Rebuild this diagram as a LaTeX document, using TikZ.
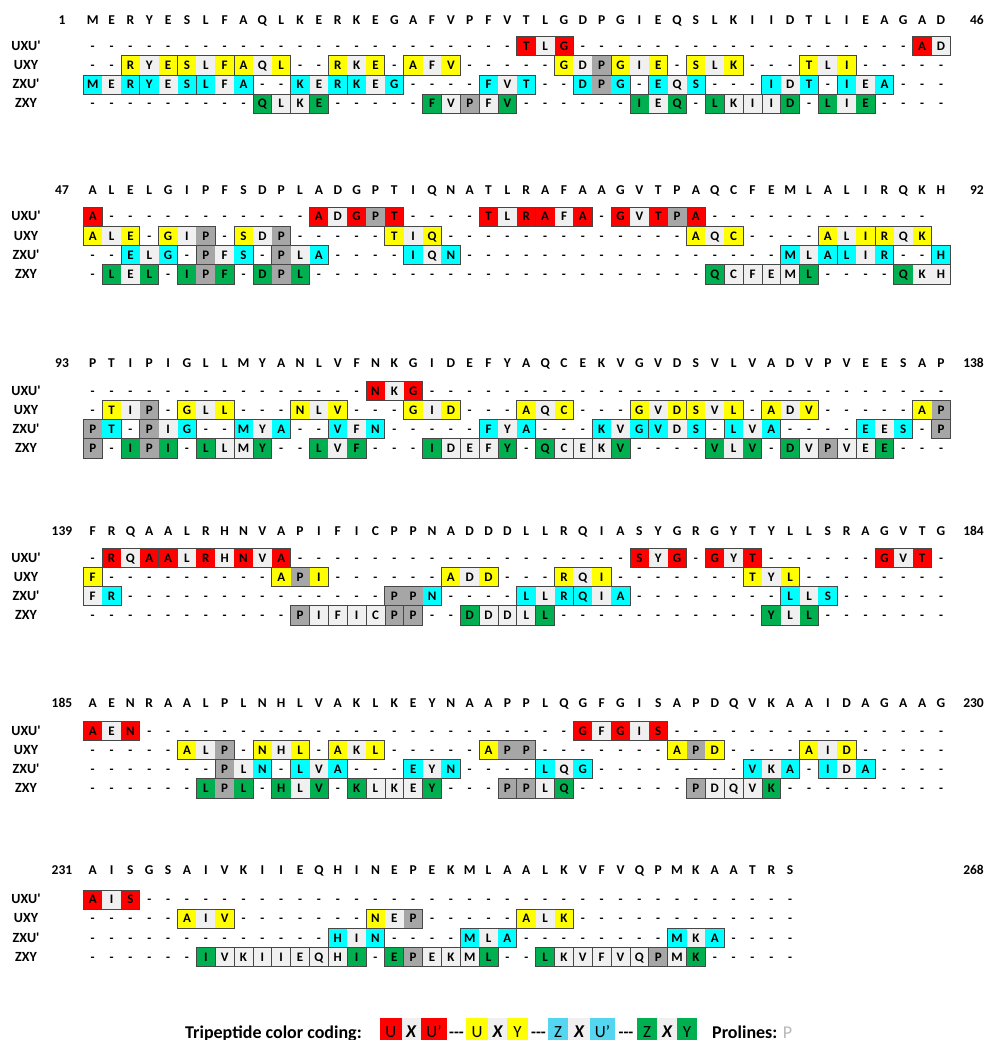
\documentclass[tikz,border=0pt]{standalone}
\usepackage{fontspec}
\setmainfont{Carlito}

\definecolor{cR}{HTML}{FF0000}
\definecolor{cY}{HTML}{FFFF00}
\definecolor{cC}{HTML}{00FFFF}
\definecolor{cG}{HTML}{00B050}
\definecolor{cL}{HTML}{F0F0F0}
\definecolor{cP}{HTML}{A6A6A6}
\definecolor{legC}{HTML}{55D6F0}
\definecolor{edge}{HTML}{474747}
\definecolor{proC}{HTML}{B8B8B8}

\tikzset{
  seqbox/.style={draw=edge,line width=0.9pt},
  seqsep/.style={draw=edge,line width=0.8pt},
  celltext/.style={anchor=base,inner sep=0pt,font=\fontsize{13}{15}\selectfont\bfseries},
  headtext/.style={anchor=base,inner sep=0pt,font=\fontsize{13.5}{15}\selectfont\bfseries},
  numtext/.style={anchor=base,inner sep=0pt,font=\fontsize{13.5}{15}\selectfont\bfseries},
  rowlabel/.style={anchor=base,inner sep=0pt,font=\fontsize{14}{16}\selectfont\bfseries},
  legtext/.style={anchor=base,inner sep=0pt,font=\fontsize{18}{20}\selectfont\bfseries},
  legdash/.style={anchor=base,inner sep=0pt,font=\fontsize{16}{20}\selectfont\bfseries},
  legletter/.style={anchor=base,inner sep=0pt,font=\fontsize{17}{20}\selectfont},
  legx/.style={anchor=base,inner sep=0pt,font=\fontsize{18}{20}\selectfont\bfseries\itshape},
}

\ExplSyntaxOn
% n dashes in a row code
\cs_new:Npn \nd #1 { \prg_replicate:nn {#1} {-} }

\int_new:N \l_sq_pos_int
\int_new:N \l_sq_start_int
\tl_new:N \l_sq_head_tl
\tl_new:N \l_sq_code_tl
\tl_new:N \l_sq_ch_tl
\tl_new:N \g_sq_lines_tl
\tl_new:N \l_sq_xa_tl
\tl_new:N \l_sq_xb_tl
\tl_new:N \l_sq_xc_tl
\tl_new:N \l_sq_ya_tl
\tl_new:N \l_sq_yb_tl
\tl_new:N \l_sq_yt_tl
\tl_const:Nn \c_sq_xo_tl {83.3}
\tl_const:Nn \c_sq_cw_tl {18.85}
\tl_const:Nn \c_sq_rh_tl {19.2}

\cs_new_protected:Npn \sq_geom:
 {
  \tl_set:Nx \l_sq_xa_tl { \fp_eval:n { \c_sq_xo_tl + (\int_use:N \l_sq_pos_int - 1) * \c_sq_cw_tl } }
  \tl_set:Nx \l_sq_xb_tl { \fp_eval:n { \c_sq_xo_tl + \int_use:N \l_sq_pos_int * \c_sq_cw_tl } }
  \tl_set:Nx \l_sq_xc_tl { \fp_eval:n { \c_sq_xo_tl + (\int_use:N \l_sq_pos_int - 0.5) * \c_sq_cw_tl } }
 }

\cs_new_protected:Npn \sq_cell:n #1
 {
  \int_incr:N \l_sq_pos_int
  \sq_geom:
  \tl_set:Nx \l_sq_ch_tl { \tl_item:Nn \l_sq_head_tl { \int_use:N \l_sq_pos_int } }
  \fill[#1]~(\l_sq_xa_tl,\l_sq_ya_tl)~rectangle~(\l_sq_xb_tl,\l_sq_yb_tl);
  \node[celltext,~at={(\l_sq_xc_tl,\l_sq_yt_tl)}]~{\l_sq_ch_tl};
 }

\cs_new_protected:Npn \sq_dash:
 {
  \int_incr:N \l_sq_pos_int
  \sq_geom:
  \node[celltext,~at={(\l_sq_xc_tl,\l_sq_yt_tl)}]~{-};
 }

\cs_new_protected:Npn \sq_box:
 {
  \tl_set:Nx \l_tmpa_tl { \fp_eval:n { \c_sq_xo_tl + \int_use:N \l_sq_start_int * \c_sq_cw_tl } }
  \tl_set:Nx \l_tmpb_tl { \fp_eval:n { \c_sq_xo_tl + \int_use:N \l_sq_pos_int * \c_sq_cw_tl } }
  \tl_gput_right:Nx \g_sq_lines_tl
   { \exp_not:N \draw[seqbox]~(\l_tmpa_tl,\l_sq_ya_tl)~rectangle~(\l_tmpb_tl,\l_sq_yb_tl); }
 }

\cs_new_protected:Npn \sq_sep:
 {
  \tl_set:Nx \l_tmpa_tl { \fp_eval:n { \c_sq_xo_tl + \int_use:N \l_sq_pos_int * \c_sq_cw_tl } }
  \tl_gput_right:Nx \g_sq_lines_tl
   { \exp_not:N \draw[seqsep]~(\l_tmpa_tl,\l_sq_ya_tl)~--~(\l_tmpa_tl,\l_sq_yb_tl); }
 }

% #1 row top, #2 label, #3 residues, #4 row code
\cs_new_protected:Npn \sq_row:nnnn #1#2#3#4
 {
  \tl_set:Nn \l_sq_head_tl {#3}
  \tl_set:Nx \l_sq_ya_tl { \fp_eval:n {#1} }
  \tl_set:Nx \l_sq_yb_tl { \fp_eval:n {#1 + \c_sq_rh_tl} }
  \tl_set:Nx \l_sq_yt_tl { \fp_eval:n {#1 + 13.7} }
  \node[rowlabel,~at={(26,\l_sq_yt_tl)}]~{#2};
  \tl_set:Nx \l_sq_code_tl {#4}
  \int_zero:N \l_sq_pos_int
  \tl_map_inline:Nn \l_sq_code_tl
   {
    \str_case:nnF {##1}
     {
      {[} { \int_set_eq:NN \l_sq_start_int \l_sq_pos_int }
      {]} { \sq_box: }
      {|} { \sq_sep: }
      {-} { \sq_dash: }
      {.} { \int_incr:N \l_sq_pos_int }
      {r} { \sq_cell:n {cR} }
      {y} { \sq_cell:n {cY} }
      {c} { \sq_cell:n {cC} }
      {g} { \sq_cell:n {cG} }
      {l} { \sq_cell:n {cL} }
      {p} { \sq_cell:n {cP} }
     }
     { }
   }
 }

% #1 header centre y, #2 first number, #3 last number, #4 residues
\cs_new_protected:Npn \sq_head:nnnn #1#2#3#4
 {
  \tl_set:Nx \l_sq_yt_tl { \fp_eval:n {#1 + 4.2} }
  \int_zero:N \l_sq_pos_int
  \tl_map_inline:nn {#4}
   {
    \int_incr:N \l_sq_pos_int
    \sq_geom:
    \node[headtext,~at={(\l_sq_xc_tl,\l_sq_yt_tl)}]~{##1};
   }
  \node[numtext,~at={(62,\l_sq_yt_tl)}]~{#2};
  \node[numtext,~anchor=base~east,~at={(984,\l_sq_yt_tl)}]~{#3};
 }

\NewDocumentCommand \seqblock { m m m m m m m m m }
 {
  \sq_head:nnnn {#2} {#3} {#4} {#5}
  \sq_row:nnnn {#1} {UXU\textquotesingle} {#5} {#6}
  \sq_row:nnnn {#1 + 19.2} {UXY} {#5} {#7}
  \sq_row:nnnn {#1 + 38.4} {ZXU\textquotesingle} {#5} {#8}
  \sq_row:nnnn {#1 + 57.6} {ZXY} {#5} {#9}
 }

\NewDocumentCommand \seqlines { } { \tl_use:N \g_sq_lines_tl }
\ExplSyntaxOff

\begin{document}
\begin{tikzpicture}[x=1pt,y=-1pt]
\useasboundingbox (0,0) rectangle (987,1040);

% residues 1-46
\seqblock{36.7}{20}{1}{46}{MERYESLFAQLKERKEGAFVPFVTLGDPGIEQSLKIIDTLIEAGAD}
 {\nd{23}[rlr]\nd{18}[rl]}
 {\nd{2}[yly][yly][yly]\nd{2}[yly]-[yly]\nd{5}[ylp][yly]-[yly]\nd{3}[yly]\nd{5}}
 {[clc][clc][clc]\nd{2}[clc][clc]\nd{4}[clc]\nd{2}[cpc]-[clc]\nd{3}[clc]-[clc]\nd{3}}
 {\nd{9}[g|l|l|g]\nd{5}[g|l|p|l|g]\nd{6}[glg]-[g|l|l|l|g]-[glg]\nd{4}}

% residues 47-92
\seqblock{207.3}{190}{47}{92}{ALELGIPFSDPLADGPTIQNATLRAFAAGVTPAQCFEMLALIRQKH}
 {[r]\nd{11}[rlrpr]\nd{4}[rlr|rlr]-[rlrpr]\nd{12}.}
 {[yly]-[ylp]-[ylp]\nd{5}[yly]\nd{13}[yly]\nd{4}[yly][yly].}
 {\nd{2}[clc]-[plc]-[plc]\nd{4}[clc]\nd{17}[clc|clc]\nd{2}[c]}
 {-[glg]-[gpg]-[gpg]\nd{21}[g|l|l|l|l|g]\nd{4}[gll]}

% residues 93-138
\seqblock{381.3}{363.7}{93}{138}{PTIPIGLLMYANLVFNKGIDEFYAQCEKVGVDSVLVADVPVEESAP}
 {\nd{15}[rlr]\nd{28}}
 {-[ylp]-[yly]\nd{3}[yly]\nd{3}[yly]\nd{3}[yly]\nd{3}[yly][yly]-[yly]\nd{5}[yp]}
 {[pc]-[plc]\nd{2}[clc]\nd{2}[clc]\nd{5}[clc]\nd{3}[clc][clc]-[clc]\nd{4}[clc]-[p]}
 {[p]-[gpg]-[g|l|l|g]\nd{2}[glg]\nd{3}[g|l|l|l|g]-[g|l|l|l|g]\nd{4}[glg]-[g|l|p|l|l|g]\nd{3}}

% residues 139-184
\seqblock{548.3}{531}{139}{184}{FRQAALRHNVAPIFICPPNADDDLLRQIASYGRGYTYLLSRAGVTG}
 {-[rlr|rlrlrlr]\nd{18}[rlr]-[rlr]\nd{6}[rlr]-}
 {[y]\nd{9}[ypy]\nd{6}[yly]\nd{3}[yly]\nd{7}[yly]\nd{8}}
 {[lc]\nd{14}[ppc]\nd{4}[clc|clc]\nd{8}[clc]\nd{6}}
 {\nd{11}[p|l|l|l|l|p|p]\nd{2}[g|l|l|l|g]\nd{11}[glg]\nd{7}}

% residues 185-230
\seqblock{721.3}{703.3}{185}{230}{AENRAALPLNHLVAKLKEYNAAPPLQGFGISAPDQVKAAIDAGAAG}
 {[rlr]\nd{23}[rl|rlr]\nd{15}}
 {\nd{5}[ylp]-[yly]-[yly]\nd{5}[ypp]\nd{7}[ypy]\nd{4}[yly]\nd{5}}
 {\nd{7}[plc]-[clc]\nd{3}[clc]\nd{4}[clc]\nd{8}[clc]-[clc]\nd{4}}
 {\nd{6}[gpg]-[glg]-[g|l|l|l|g]\nd{3}[p|p|l|g]\nd{6}[p|l|l|l|g]\nd{9}}

% residues 231-268
\seqblock{890}{870}{231}{268}{AISGSAIVKIIEQHINEPEKMLAALKVFVQPMKAATRS}
 {[rlr]\nd{35}}
 {\nd{5}[yly]\nd{7}[ylp]\nd{5}[yly]\nd{12}}
 {\nd{13}[clc]\nd{4}[clc]\nd{8}[clc]\nd{4}}
 {\nd{6}[g|l|l|l|l|l|l|l|g]-[g|p|l|l|l|g]\nd{2}[g|l|l|l|l|l|p|l|g]\nd{5}}

% box outlines on top of the fills
\seqlines

% colour key
\node[legtext,anchor=base west] (keytitle) at (185,1038) {Tripeptide color coding:};
\fill[cR] (380,1018) rectangle (401.5,1042);
\fill[cL] (401.5,1018) rectangle (421,1042);
\fill[cR] (421,1018) rectangle (447,1042);
\fill[cY] (466,1018) rectangle (488,1042);
\fill[cL] (488,1018) rectangle (507,1042);
\fill[cY] (507,1018) rectangle (528,1042);
\fill[legC] (548,1018) rectangle (568,1042);
\fill[cL] (568,1018) rectangle (590,1042);
\fill[legC] (590,1018) rectangle (615,1042);
\fill[cG] (637,1018) rectangle (657,1042);
\fill[cL] (657,1018) rectangle (677,1042);
\fill[cG] (677,1018) rectangle (697,1042);
\node[legletter] (k1u) at (390.7,1037) {U};
\node[legx] (k1x) at (411.2,1037) {X};
\node[legletter] (k1v) at (434,1037) {U’};
\node[legdash] (k1d) at (456.5,1037) {-{}-{}-};
\node[legletter] (k2u) at (477,1037) {U};
\node[legx] (k2x) at (497.5,1037) {X};
\node[legletter] (k2y) at (517.5,1037) {Y};
\node[legdash] (k2d) at (538.5,1037) {-{}-{}-};
\node[legletter] (k3z) at (558,1037) {Z};
\node[legx] (k3x) at (579,1037) {X};
\node[legletter] (k3v) at (602.5,1037) {U’};
\node[legdash] (k3d) at (626,1037) {-{}-{}-};
\node[legletter] (k4z) at (647,1037) {Z};
\node[legx] (k4x) at (667,1037) {X};
\node[legletter] (k4y) at (687,1037) {Y};
\node[legtext,anchor=base west] (keypro) at (712,1038) {Prolines: {\mdseries\color{proC}P}};
\end{tikzpicture}
\end{document}
